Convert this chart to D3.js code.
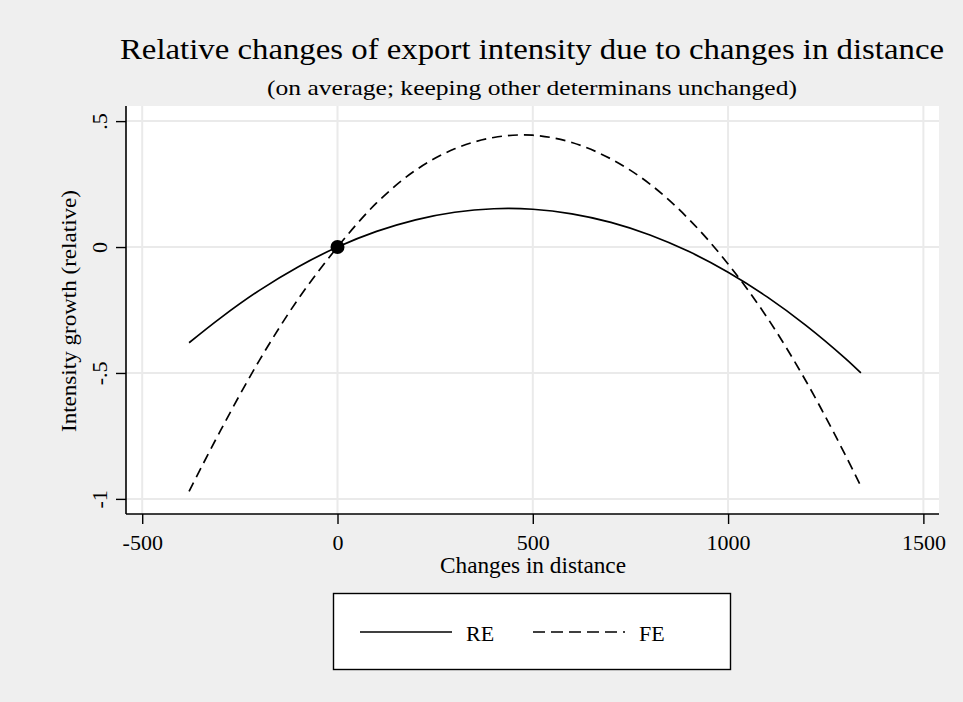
<!DOCTYPE html>
<html>
<head>
<meta charset="utf-8">
<script src="https://cdn.jsdelivr.net/npm/d3@7"></script>
<style>
  html, body { margin: 0; padding: 0; background: #efefef; }
  svg { display: block; }
  text { font-family: "Liberation Serif", "Times New Roman", serif; fill: #000; }
</style>
</head>
<body>
<svg id="chart" width="963" height="702"></svg>
<script>
// ---- data ----
const distance = [-380, -300, -200, -100, 0, 100, 200, 300, 400, 500, 600, 700, 800, 900, 1000, 1100, 1200, 1300, 1340];
const reValues = [-0.38, -0.282, -0.172, -0.078, 0, 0.062, 0.108, 0.138, 0.152, 0.15, 0.132, 0.098, 0.048, -0.018, -0.1, -0.198, -0.312, -0.442, -0.5];
const feValues = [-0.97, -0.73, -0.45, -0.205, 0, 0.175, 0.305, 0.39, 0.435, 0.444, 0.415, 0.35, 0.25, 0.11, -0.067, -0.28, -0.534, -0.825, -0.95];
const markerPoint = [{ x: 0, y: 0 }];
const xTicks = [-500, 0, 500, 1000, 1500];
const xTickLabels = ["-500", "0", "500", "1000", "1500"];
const yTicks = [0.5, 0, -0.5, -1];
const yTickLabels = [".5", "0", "-.5", "-1"];
const seriesNames = ["RE", "FE"];
const titleText = "Relative changes of export intensity due to changes in distance";
const subtitleText = "(on average; keeping other determinans unchanged)";
const xTitle = "Changes in distance";
const yTitle = "Intensity growth (relative)";

// ---- layout ----
const svg = d3.select("#chart");
const W = 963, H = 702;
const plot = { left: 126, right: 939, top: 106, bottom: 514 };
const FONT = "Liberation Serif";

svg.append("rect").attr("x", 0).attr("y", 0).attr("width", W).attr("height", H).attr("fill", "#efefef");

const x = d3.scaleLinear().domain([-541.5, 1540]).range([plot.left, plot.right]);
const y = d3.scaleLinear().domain([-1.06, 0.56]).range([plot.bottom, plot.top]);

// plot region
svg.append("rect")
  .attr("x", plot.left).attr("y", plot.top)
  .attr("width", plot.right - plot.left).attr("height", plot.bottom - plot.top)
  .attr("fill", "#ffffff");

// gridlines
const grid = svg.append("g");
grid.selectAll("line.gx").data(xTicks).enter().append("line")
  .attr("x1", d => x(d)).attr("x2", d => x(d))
  .attr("y1", plot.top).attr("y2", plot.bottom)
  .attr("stroke", "#eaeaea").attr("stroke-width", 2);
grid.selectAll("line.gy").data(yTicks).enter().append("line")
  .attr("y1", d => y(d)).attr("y2", d => y(d))
  .attr("x1", plot.left).attr("x2", plot.right)
  .attr("stroke", "#eaeaea").attr("stroke-width", 2);

// axes
const xAxis = d3.axisBottom(x).tickValues(xTicks)
  .tickFormat((d, i) => xTickLabels[i]).tickSizeInner(10).tickSizeOuter(0);
const gx = svg.append("g").attr("transform", `translate(0,${plot.bottom})`).call(xAxis);
gx.select(".domain").attr("stroke", "#000").attr("stroke-width", 1.6)
  .attr("d", `M${plot.left},0H${plot.right}`);
gx.selectAll(".tick line").attr("stroke", "#000").attr("stroke-width", 1.4);
gx.selectAll(".tick text").attr("font-size", 22).attr("font-family", FONT)
  .attr("y", 36).attr("dy", 0);

const yAxis = d3.axisLeft(y).tickValues(yTicks)
  .tickFormat((d, i) => yTickLabels[i]).tickSizeInner(10).tickSizeOuter(0);
const gy = svg.append("g").attr("transform", `translate(${plot.left},0)`).call(yAxis);
gy.select(".domain").attr("stroke", "#000").attr("stroke-width", 1.6)
  .attr("d", `M0,${plot.top}V${plot.bottom}`);
gy.selectAll(".tick line").attr("stroke", "#000").attr("stroke-width", 1.4);
gy.selectAll(".tick text")
  .attr("font-size", 22).attr("font-family", FONT)
  .attr("x", 0).attr("y", 0).attr("dy", 0)
  .attr("text-anchor", "middle")
  .attr("transform", "translate(-19,0) rotate(-90)");

// lines
const reData = distance.map((d, i) => ({ x: d, y: reValues[i] }));
const feData = distance.map((d, i) => ({ x: d, y: feValues[i] }));
const line = d3.line().x(d => x(d.x)).y(d => y(d.y)).curve(d3.curveCatmullRom);

svg.append("path").datum(reData).attr("d", line)
  .attr("fill", "none").attr("stroke", "#000").attr("stroke-width", 1.7);
svg.append("path").datum(feData).attr("d", line)
  .attr("fill", "none").attr("stroke", "#000").attr("stroke-width", 1.7)
  .attr("stroke-dasharray", "10,6");

svg.selectAll("circle.mk").data(markerPoint).enter().append("circle")
  .attr("cx", d => x(d.x)).attr("cy", d => y(d.y)).attr("r", 7).attr("fill", "#000");

// titles
svg.append("text").attr("x", 532).attr("y", 59)
  .attr("text-anchor", "middle").attr("font-size", 30)
  .attr("textLength", 824).attr("lengthAdjust", "spacingAndGlyphs")
  .text(titleText);
svg.append("text").attr("x", 532).attr("y", 95)
  .attr("text-anchor", "middle").attr("font-size", 22)
  .attr("textLength", 530).attr("lengthAdjust", "spacingAndGlyphs")
  .text(subtitleText);
svg.append("text").attr("x", 533).attr("y", 573)
  .attr("text-anchor", "middle").attr("font-size", 23)
  .attr("textLength", 186).attr("lengthAdjust", "spacingAndGlyphs")
  .text(xTitle);
svg.append("text").attr("transform", "translate(76,311) rotate(-90)")
  .attr("text-anchor", "middle").attr("font-size", 22)
  .attr("textLength", 242).attr("lengthAdjust", "spacingAndGlyphs")
  .text(yTitle);

// legend
const lg = svg.append("g");
lg.append("rect").attr("x", 333.5).attr("y", 593.5).attr("width", 397).attr("height", 76)
  .attr("fill", "#fff").attr("stroke", "#000").attr("stroke-width", 1.4);
const legendItems = [
  { name: seriesNames[0], x1: 360, x2: 452, tx: 466, dash: null },
  { name: seriesNames[1], x1: 533, x2: 625, tx: 639, dash: "12,6" }
];
legendItems.forEach(it => {
  const l = lg.append("line").attr("x1", it.x1).attr("x2", it.x2).attr("y1", 632).attr("y2", 632)
    .attr("stroke", "#000").attr("stroke-width", 1.7);
  if (it.dash) l.attr("stroke-dasharray", it.dash);
  lg.append("text").attr("x", it.tx).attr("y", 641).attr("font-size", 22).text(it.name);
});
</script>
</body>
</html>
